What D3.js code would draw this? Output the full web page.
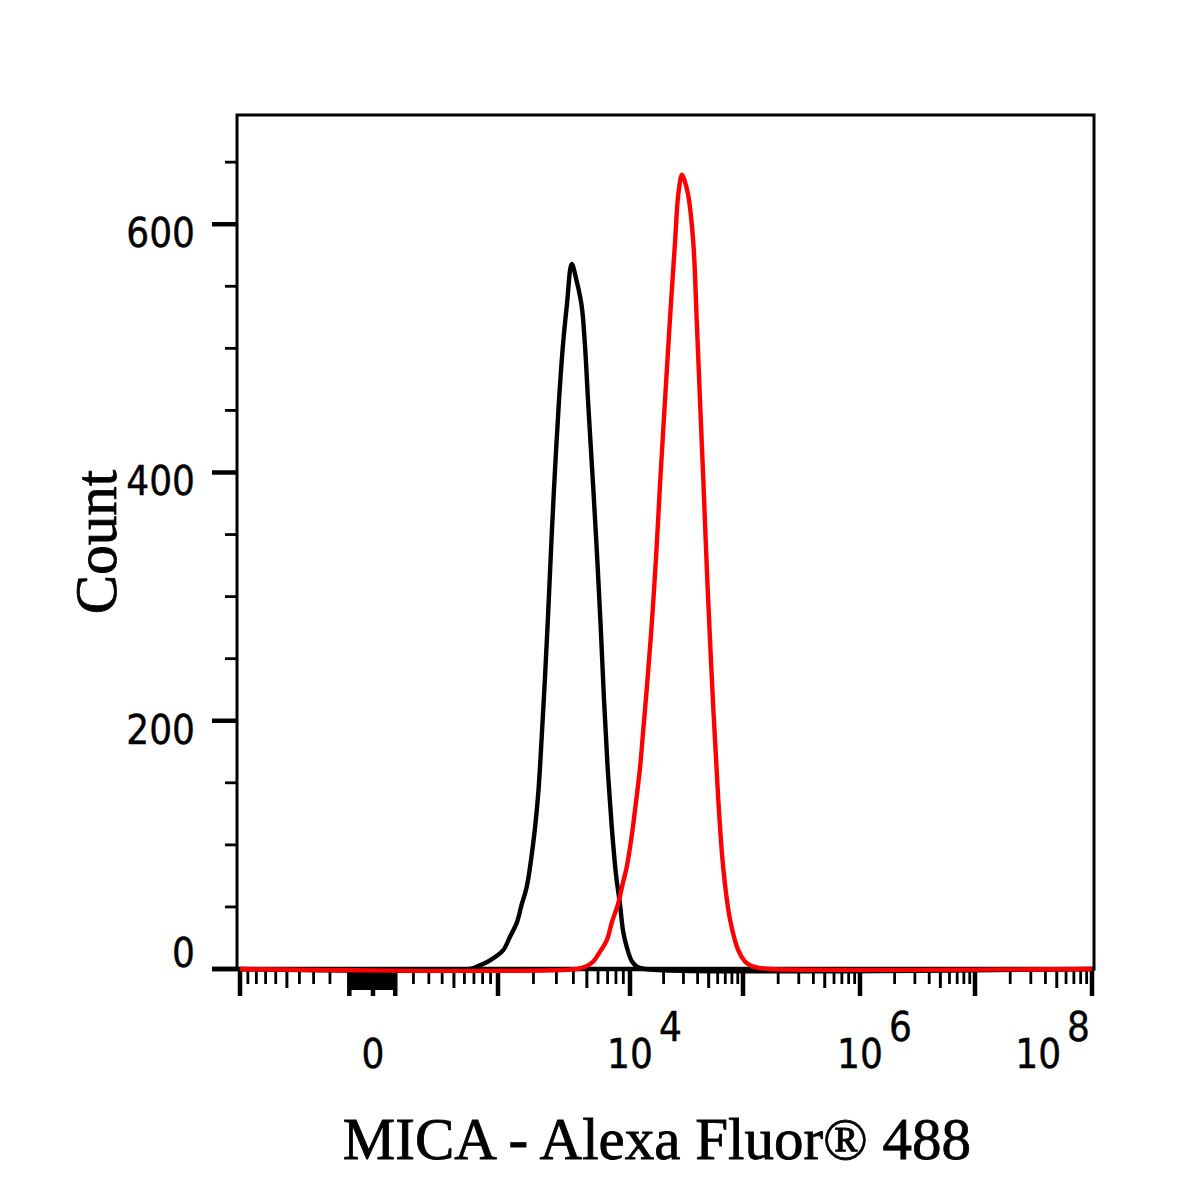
<!DOCTYPE html>
<html>
<head>
<meta charset="utf-8">
<script src="https://cdn.jsdelivr.net/npm/d3@7"></script>
<style>
  html, body { margin: 0; padding: 0; background: #fff; }
  svg { display: block; }
  .tick-label { font-family: "Liberation Sans Narrow", "DejaVu Sans Condensed", "Liberation Sans", sans-serif; font-size: 40px; fill: #000; stroke: #000; stroke-width: 0.4px; }
  .title { font-family: "Liberation Serif", "Times New Roman", serif; font-size: 59px; fill: #000; stroke: #000; stroke-width: 0.8px; }
</style>
</head>
<body>
<svg id="chart" width="1200" height="1200"></svg>
<script>
// ---------------- data ----------------
// Fluorescence intensity (MICA - Alexa Fluor 488) and event counts
const isotypeX = [-1000, 657, 734, 892, 1111, 1280, 1460, 1607, 1765, 1994, 2182, 2320, 2459, 2606, 2756, 2928, 3137, 3358, 3594, 3890, 4228, 4593, 4850, 5120, 5555, 5900, 6244, 6607, 6990, 7476, 8009, 8535, 8952, 9538, 10424, 11568, 13650, 1e8];
const isotypeCount = [0, 0, 2, 7, 15, 26, 37, 52, 66, 102, 142, 187, 235, 289, 346, 402, 458, 503, 536, 568, 554, 534, 502, 454, 387, 334, 279, 217, 164, 115, 76, 52, 31, 17, 6, 2, 0, 0];

const micaX = [-1000, 4250, 4932, 5555, 6194, 6901, 7512, 8308, 8882, 9492, 10359, 11098, 12313, 13100, 14136, 15671, 17298, 18588, 20589, 22802, 25251, 27009, 29125, 30955, 33102, 36639, 39257, 41971, 44875, 47396, 49656, 54936, 60772, 67228, 76952, 90976, 104020, 114800, 134400, 170300, 1e8];
const micaCount = [0, 0, 2, 6, 14, 23, 38, 53, 68, 82, 107, 128, 162, 190, 225, 277, 338, 390, 458, 524, 585, 624, 640, 634, 623, 585, 523, 458, 394, 339, 295, 210, 136, 81, 40, 15, 6, 3, 1, 0, 0];

const yTickValues = [0, 50, 100, 150, 200, 250, 300, 350, 400, 450, 500, 550, 600, 650];
const yLabelValues = [0, 200, 400, 600];
const xDecades = [-1000, 0, 1e3, 1e4, 1e5, 1e6, 1e7, 1e8];
const xLabelValues = [0, 1e4, 1e6, 1e8];
const xLabelExponents = [null, 4, 6, 8];

const yTitle = "Count";
const xTitle = "MICA - Alexa Fluor® 488";

// ---------------- layout ----------------
const plot = { left: 237, right: 1094, top: 115, bottom: 969 };
const decadePixels = [240, 373, 498, 630, 743, 860, 975, 1092];

const svg = d3.select("#chart");

// biexponential-like x scale: symlog transform, then piecewise-linear per decade
const sym = d3.scaleSymlog().constant(400).domain([-1000, 1e8]).range([0, 1]);
const xPiece = d3.scaleLinear().domain(xDecades.map(d => sym(d))).range(decadePixels);
const x = v => xPiece(sym(v));

const y = d3.scaleLinear().domain([0, 688]).range([plot.bottom, plot.top]);

// ---------------- frame ----------------
svg.append("rect")
  .attr("x", plot.left).attr("y", plot.top)
  .attr("width", plot.right - plot.left).attr("height", plot.bottom - plot.top)
  .attr("fill", "none").attr("stroke", "#000").attr("stroke-width", 3);

// ---------------- y axis ticks ----------------
yTickValues.forEach(v => {
  const major = v % 200 === 0;
  svg.append("line")
    .attr("x1", major ? plot.left - 25 : plot.left - 12).attr("x2", plot.left)
    .attr("y1", y(v)).attr("y2", y(v))
    .attr("stroke", "#000").attr("stroke-width", major ? 4.5 : 2.8);
});
yLabelValues.forEach(v => {
  svg.append("text").attr("class", "tick-label")
    .attr("x", 195)
    .attr("y", v === 0 ? y(v) - 2 : y(v) + 23)
    .attr("text-anchor", "end")
    .text(v);
});

// ---------------- x axis ticks ----------------
const xTicks = [];
[-1000, -100, 0, 100, 1e3, 1e4, 1e5, 1e6, 1e7, 1e8].forEach(v => xTicks.push({ v, kind: "major" }));
for (let m = 1; m <= 9; m++) {
  xTicks.push({ v: m * 10, kind: "near" });
  xTicks.push({ v: -m * 10, kind: "near" });
}
for (let m = 2; m <= 9; m++) {
  xTicks.push({ v: m * 100, kind: m === 5 ? "mid" : "minor" });
  xTicks.push({ v: -m * 100, kind: m === 5 ? "mid" : "minor" });
}
[1e3, 1e4, 1e5, 1e6, 1e7].forEach(d => {
  for (let m = 2; m <= 9; m++) xTicks.push({ v: m * d, kind: m === 5 ? "mid" : "minor" });
});
const tickLen = { major: 27, near: 21, mid: 19, minor: 15 };
const tickW = { major: 4.5, near: 3.2, mid: 3, minor: 2.8 };
xTicks.forEach(t => {
  svg.append("line")
    .attr("x1", x(t.v)).attr("x2", x(t.v))
    .attr("y1", plot.bottom).attr("y2", plot.bottom + tickLen[t.kind])
    .attr("stroke", "#000").attr("stroke-width", tickW[t.kind]);
});
// baseline (x axis line) and y=0 extension
svg.append("line")
  .attr("x1", plot.left - 25).attr("x2", plot.right)
  .attr("y1", plot.bottom).attr("y2", plot.bottom)
  .attr("stroke", "#000").attr("stroke-width", 4.5);

// x labels
xLabelValues.forEach((v, i) => {
  const exp = xLabelExponents[i];
  const t = svg.append("text").attr("class", "tick-label").attr("y", 1068);
  if (exp === null) {
    t.attr("x", x(v)).attr("text-anchor", "middle").text(v);
    return;
  }
  const base = t.append("tspan").text("10");
  t.append("tspan").attr("dx", 6).attr("dy", -27).text(exp);
  const baseLen = base.node().getComputedTextLength();
  const totalLen = t.node().getComputedTextLength() + 6;
  let startX = x(v) - baseLen / 2;
  if (startX + totalLen > plot.right - 2) startX = plot.right - 4 - totalLen;
  t.attr("x", startX);
});

// ---------------- histograms ----------------
const line = d3.line()
  .x(d => x(d[0]))
  .y(d => y(d[1]))
  .curve(d3.curveCatmullRom.alpha(0.5));

svg.append("path")
  .datum(isotypeX.map((v, i) => [v, isotypeCount[i]]))
  .attr("d", line)
  .attr("fill", "none").attr("stroke", "#000").attr("stroke-width", 4.4)
  .attr("stroke-linejoin", "round");

svg.append("path")
  .datum(micaX.map((v, i) => [v, micaCount[i]]))
  .attr("d", line)
  .attr("fill", "none").attr("stroke", "#ff0000").attr("stroke-width", 4.4)
  .attr("stroke-linejoin", "round");

// ---------------- titles ----------------
svg.append("text").attr("class", "title")
  .attr("transform", `translate(116, ${(plot.top + plot.bottom) / 2}) rotate(-90)`)
  .attr("text-anchor", "middle")
  .text(yTitle);

svg.append("text").attr("class", "title")
  .attr("x", 657).attr("y", 1159)
  .attr("text-anchor", "middle")
  .text(xTitle);
</script>
</body>
</html>
